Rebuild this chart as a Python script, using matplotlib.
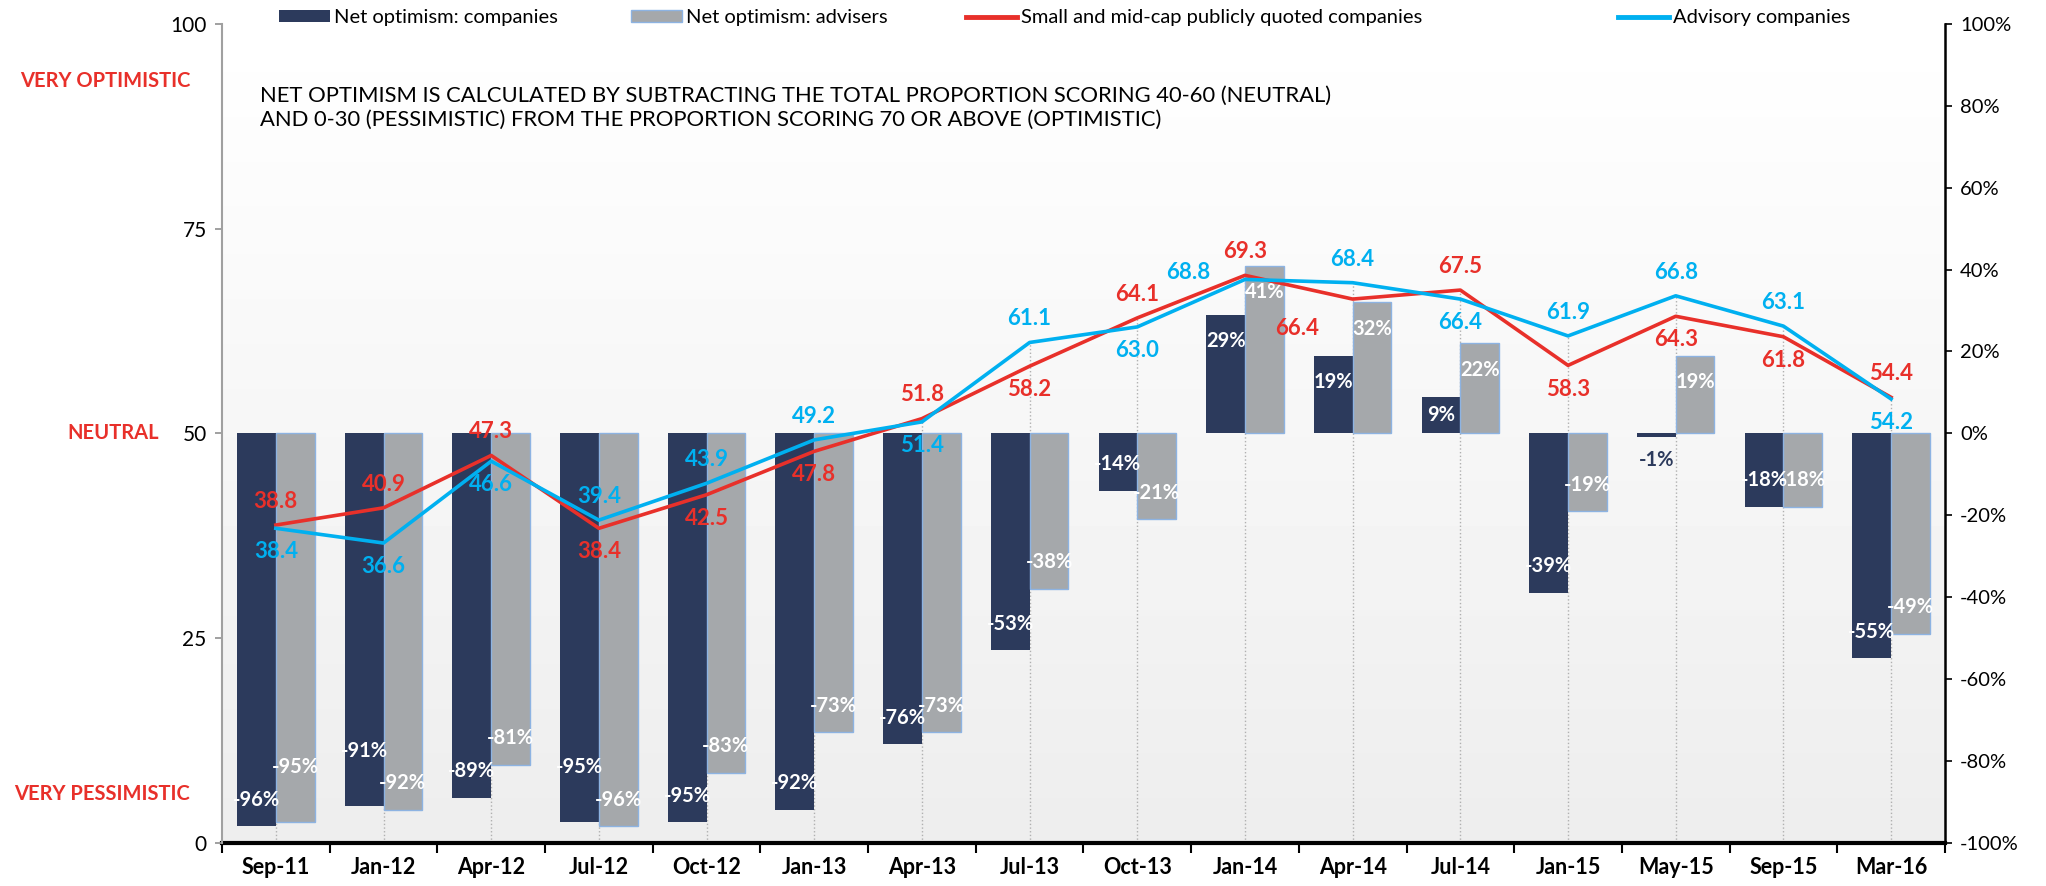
import numpy as np
import matplotlib
matplotlib.use("Agg")
import matplotlib.pyplot as plt
from matplotlib.patches import Patch
from matplotlib.lines import Line2D

plt.rcParams['font.family'] = ['Lato', 'DejaVu Sans']

categories = ['Sep-11', 'Jan-12', 'Apr-12', 'Jul-12', 'Oct-12', 'Jan-13', 'Apr-13', 'Jul-13',
              'Oct-13', 'Jan-14', 'Apr-14', 'Jul-14', 'Jan-15', 'May-15', 'Sep-15', 'Mar-16']
net_companies = [-96, -91, -89, -95, -95, -92, -76, -53, -14, 29, 19, 9, -39, -1, -18, -55]
net_advisers = [-95, -92, -81, -96, -83, -73, -73, -38, -21, 41, 32, 22, -19, 19, -18, -49]
small_mid_cap = [38.8, 40.9, 47.3, 38.4, 42.5, 47.8, 51.8, 58.2, 64.1, 69.3, 66.4, 67.5, 58.3, 64.3, 61.8, 54.4]
advisory = [38.4, 36.6, 46.6, 39.4, 43.9, 49.2, 51.4, 61.1, 63.0, 68.8, 68.4, 66.4, 61.9, 66.8, 63.1, 54.2]

# where each line label sits relative to its point
red_side = ['a', 'a', 'a', 'b', 'b', 'b', 'a', 'b', 'a', 'a', 'bl', 'a', 'b', 'b', 'b', 'a']
blue_side = ['b', 'b', 'b', 'a', 'a', 'a', 'b', 'a', 'b', 'l', 'a', 'b', 'a', 'a', 'a', 'b']
offsets = {'a': (0, 17), 'b': (0, -17), 'l': (-41, 5), 'bl': (-40, -21)}

NAVY = '#2C3A5C'
GREY = '#A5A8AB'
RED = '#E8302A'
BLUE = '#00B0F0'

fig = plt.figure(figsize=(20.46, 8.86), dpi=100)
ax = fig.add_axes([0.1085, 0.0489, 0.8421, 0.9240])
ax2 = ax.twinx()

x = np.arange(len(categories))
w = 0.36

# plot-area gradient
grad = np.linspace(0.93, 1.0, 256).reshape(-1, 1)
ax.imshow(grad, cmap='gray', vmin=0, vmax=1, extent=[0, 1, 0, 1], transform=ax.transAxes,
          aspect='auto', origin='lower', zorder=0)

ax.set_xlim(-0.5, len(categories) - 0.5)
ax.set_ylim(-100, 100)
ax2.set_ylim(0, 100)

# drop lines
tops = np.maximum(small_mid_cap, advisory)
ax.vlines(x, 0, tops, transform=ax2.transData, colors='#B0B0B0', linestyles=':', lw=1.0, zorder=1)

ax.bar(x - w / 2, net_companies, w, color=NAVY, zorder=2)
ax.bar(x + w / 2, net_advisers, w, color=GREY, edgecolor='#8DB3E2', lw=1.0, zorder=2)


def bar_label_y(v, other):
    if v >= 0:
        return max(v - 6.5, v / 2)
    if v > -5:
        return v - 5.5
    y = v + 6.5
    # stagger two near-equal deep labels so they do not sit on each other
    if abs(v - other) <= 2 and v > other:
        y += 7
    return y


lab = dict(fontsize=14.5, fontweight='bold', ha='center', va='center', zorder=5)
for xi, v, o in zip(x - w / 2, net_companies, net_advisers):
    col = NAVY if -5 < v < 0 else 'white'
    ax.text(xi, bar_label_y(v, o), f'{v}%', color=col, **lab)
for xi, v, o in zip(x + w / 2, net_advisers, net_companies):
    ax.text(xi, bar_label_y(v, o), f'{v}%', color='white', **lab)

ax2.plot(x, small_mid_cap, color=RED, lw=2.6, zorder=3)
ax2.plot(x, advisory, color=BLUE, lw=2.6, zorder=4)

for xi, v, s in zip(x, small_mid_cap, red_side):
    ax2.annotate(f'{v:.1f}', (xi, v), xytext=offsets[s], textcoords='offset points',
                 ha='center', va='center', color=RED, fontsize=16, fontweight='bold')
for xi, v, s in zip(x, advisory, blue_side):
    ax2.annotate(f'{v:.1f}', (xi, v), xytext=offsets[s], textcoords='offset points',
                 ha='center', va='center', color=BLUE, fontsize=16, fontweight='bold')

# axes styling
ax.yaxis.tick_right()
ax.set_yticks(range(-100, 101, 20))
ax.set_yticklabels([f'{t}%' for t in range(-100, 101, 20)], fontsize=14.5)
ax.tick_params(axis='y', direction='out', length=5, width=1.2, color='black', pad=6)
ax.set_xticks(np.arange(-0.5, len(categories), 1.0))
ax.set_xticklabels([])
ax.set_xticks(x, minor=True)
ax.set_xticklabels(categories, minor=True, fontsize=15.5, fontweight='bold')
ax.tick_params(axis='x', which='major', direction='out', length=7, width=1.5, color='black')
ax.tick_params(axis='x', which='minor', length=0, pad=10)
for s in ['left', 'top']:
    ax.spines[s].set_visible(False)
ax.spines['bottom'].set_linewidth(3)
ax.spines['right'].set_linewidth(1.8)

ax2.yaxis.tick_left()
ax2.set_yticks([0, 25, 50, 75, 100])
ax2.set_yticklabels(['0', '25', '50', '75', '100'], fontsize=15)
ax2.tick_params(axis='y', direction='out', length=5, width=1.2, color='#909090', pad=6)
for s in ['right', 'top', 'bottom']:
    ax2.spines[s].set_visible(False)
ax2.spines['left'].set_color('#A0A0A0')
ax2.spines['left'].set_linewidth(1.5)

# sentiment labels on the left
tr = matplotlib.transforms.blended_transform_factory(fig.transFigure, ax2.transData)
side = dict(color=RED, fontsize=14.5, fontweight='bold', va='center', ha='right', transform=tr)
fig.text(190 / 2046, 93, 'VERY OPTIMISTIC', **side)
fig.text(159 / 2046, 50, 'NEUTRAL', **side)
fig.text(190 / 2046, 6, 'VERY PESSIMISTIC', **side)

ax2.text(260 / 2046, 89.8, 'NET OPTIMISM IS CALCULATED BY SUBTRACTING THE TOTAL PROPORTION SCORING 40-60 (NEUTRAL)\n'
         'AND 0-30 (PESSIMISTIC) FROM THE PROPORTION SCORING 70 OR ABOVE (OPTIMISTIC)',
         transform=tr, fontsize=15.8, va='center', ha='left', linespacing=1.25)

# legend, one entry at a time to match spacing
entries = [
    (Patch(facecolor=NAVY), 'Net optimism: companies', 279),
    (Patch(facecolor=GREY, edgecolor='#8DB3E2'), 'Net optimism: advisers', 631),
    (Line2D([], [], color=RED, lw=3.5), 'Small and mid-cap publicly quoted companies', 966),
    (Line2D([], [], color=BLUE, lw=3.5), 'Advisory companies', 1618),
]
for h, t, px in entries:
    fig.legend([h], [t], loc='center left', bbox_to_anchor=(px / 2046, 1 - 18 / 886),
               frameon=False, fontsize=14.5, handlelength=2.55, handleheight=0.55,
               handletextpad=0.2, borderaxespad=0, borderpad=0)

fig.savefig('out.png', dpi=100)
